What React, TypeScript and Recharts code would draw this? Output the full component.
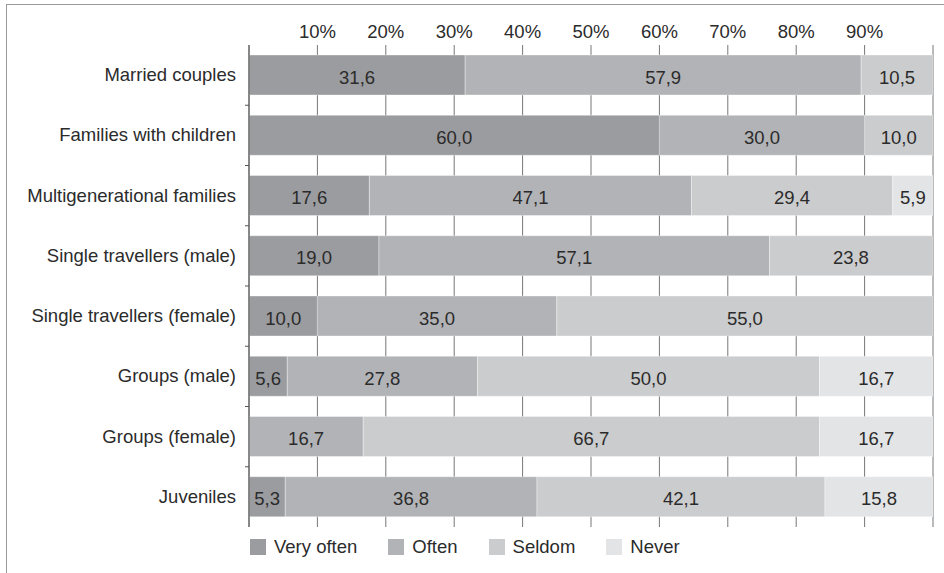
import { BarChart, Bar, XAxis, YAxis, CartesianGrid, Legend, LabelList } from "recharts";

const categories = [
  "Married couples",
  "Families with children",
  "Multigenerational families",
  "Single travellers (male)",
  "Single travellers (female)",
  "Groups (male)",
  "Groups (female)",
  "Juveniles",
];

const veryOften = [31.6, 60.0, 17.6, 19.0, 10.0, 5.6, 0, 5.3];
const often = [57.9, 30.0, 47.1, 57.1, 35.0, 27.8, 16.7, 36.8];
const seldom = [10.5, 10.0, 29.4, 23.8, 55.0, 50.0, 66.7, 42.1];
const never = [0, 0, 5.9, 0, 0, 16.7, 16.7, 15.8];

const percentTicks = [10, 20, 30, 40, 50, 60, 70, 80, 90];

const SERIES = [
  { key: "veryOften", name: "Very often", color: "#9b9c9f" },
  { key: "often", name: "Often", color: "#b2b3b6" },
  { key: "seldom", name: "Seldom", color: "#cbcccd" },
  { key: "never", name: "Never", color: "#e3e4e6" },
];

const TEXT = "#2b2b2b";
const FONT = "'Liberation Sans', Arial, Helvetica, sans-serif";
const FONT_SIZE = 18.5;
const BAND = 60.25;

const data = categories.map((name, i) => ({
  name,
  veryOften: veryOften[i],
  often: often[i],
  seldom: seldom[i],
  never: never[i],
}));

const fmt = (v: any) => (v ? Number(v).toFixed(1).replace(".", ",") : "");

// category label plus a small tick on the boundary above each band
function CategoryTick(props: any) {
  const { x, y, payload, index } = props;
  return (
    <g>
      <text x={x} y={y} dy={6} textAnchor="end" fontSize={FONT_SIZE} fill={TEXT}>
        {payload.value}
      </text>
      {index > 0 && (
        <line x1={x + 9} x2={x + 13} y1={y - BAND / 2} y2={y - BAND / 2} stroke="#555" />
      )}
    </g>
  );
}

function LegendContent() {
  return (
    <div style={{ display: "flex", gap: 31, fontSize: FONT_SIZE, color: TEXT, lineHeight: "20px" }}>
      {SERIES.map((s) => (
        <div key={s.key} style={{ display: "flex", alignItems: "center", gap: 8 }}>
          <div style={{ width: 16, height: 16, backgroundColor: s.color }} />
          {s.name}
        </div>
      ))}
    </div>
  );
}

export default function App() {
  return (
    <div style={{ position: "absolute", left: 0, top: 0, width: 944, height: 573, fontFamily: FONT, background: "#fff" }}>
      {/* frame */}
      <div
        style={{
          position: "absolute",
          left: 6,
          top: 4,
          width: 938,
          height: 569,
          boxSizing: "border-box",
          borderLeft: "1.5px solid #9a9a9a",
          borderTop: "1.5px solid #9a9a9a",
        }}
      />
      <div style={{ position: "absolute", left: 0, top: 0 }}>
        <BarChart
          width={944}
          height={573}
          data={data}
          layout="vertical"
          barSize={40}
          margin={{ top: 0, right: 11, bottom: 46, left: 0 }}
        >
          <CartesianGrid horizontal={false} stroke="#777" />
          <XAxis
            type="number"
            orientation="top"
            domain={[0, 100]}
            allowDataOverflow
            ticks={percentTicks}
            tickFormatter={(v) => `${v}%`}
            axisLine={false}
            tickLine={false}
            tickSize={0}
            tickMargin={7}
            height={45}
            tick={{ fill: TEXT, fontSize: FONT_SIZE }}
          />
          <YAxis
            type="category"
            dataKey="name"
            width={249}
            tickLine={false}
            tickSize={0}
            tickMargin={13}
            axisLine={{ stroke: "#555" }}
            tick={<CategoryTick />}
          />
          {/* centre/middle keeps the legend out of the plot offset; placed by wrapperStyle */}
          <Legend
            verticalAlign="middle"
            align="center"
            wrapperStyle={{ left: 250, top: 537, width: 600 }}
            content={<LegendContent />}
          />
          {SERIES.map((s) => (
            <Bar
              key={s.key}
              dataKey={s.key}
              name={s.name}
              stackId="a"
              fill={s.color}
              stroke="#ffffff"
              strokeOpacity={0.35}
              strokeWidth={1}
              isAnimationActive={false}
            >
              <LabelList dataKey={s.key} position="center" formatter={fmt} fill={TEXT} fontSize={FONT_SIZE} dy={2} />
            </Bar>
          ))}
        </BarChart>
      </div>
    </div>
  );
}
